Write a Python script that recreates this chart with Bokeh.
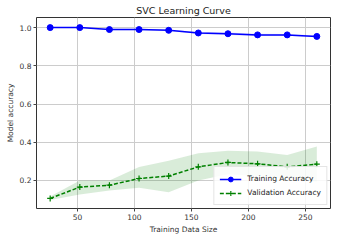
from bokeh.plotting import figure
from bokeh.embed import file_html
from bokeh.resources import INLINE
from bokeh.models import FixedTicker, NumeralTickFormatter, Range1d

train_sizes = [26, 52, 78, 104, 130, 156, 182, 208, 234, 260]
train_mean = [1.0, 1.0, 0.99, 0.99, 0.986, 0.972, 0.968, 0.962, 0.962, 0.954]
train_std = [0.0, 0.0, 0.004, 0.004, 0.004, 0.005, 0.006, 0.006, 0.005, 0.005]
val_mean = [0.106, 0.165, 0.175, 0.21, 0.223, 0.271, 0.294, 0.287, 0.271, 0.285]
val_upper = [0.116, 0.2, 0.2, 0.27, 0.303, 0.342, 0.356, 0.352, 0.333, 0.377]
val_lower = [0.098, 0.126, 0.147, 0.161, 0.138, 0.2, 0.232, 0.222, 0.209, 0.193]
x_ticks = [50, 100, 150, 200, 250]
y_ticks = [0.2, 0.4, 0.6, 0.8, 1.0]

FONT = "DejaVu Sans"

p = figure(frame_width=294, frame_height=191, output_backend="svg", toolbar_location=None,
           title="SVC Learning Curve",
           x_range=Range1d(14, 272), y_range=Range1d(0.053, 1.053),
           min_border_left=36, min_border_right=10, min_border_bottom=20, min_border_top=0)

p.title.align = "center"
p.title.text_font = FONT
p.title.text_font_size = "9.5px"
p.title.text_font_style = "normal"
p.title.text_color = "#222222"
p.title.standoff = 4
p.title.offset = 0

tr_upper = [m + s for m, s in zip(train_mean, train_std)]
tr_lower = [m - s for m, s in zip(train_mean, train_std)]
p.varea(x=train_sizes, y1=tr_lower, y2=tr_upper, fill_color="blue", fill_alpha=0.15)
p.varea(x=train_sizes, y1=val_lower, y2=val_upper, fill_color="green", fill_alpha=0.15)

p.line(train_sizes, train_mean, line_color="blue", line_width=1.5, legend_label="Training Accuracy")
p.scatter(train_sizes, train_mean, marker="circle", size=6, fill_color="blue", line_color="blue",
          legend_label="Training Accuracy")
p.line(train_sizes, val_mean, line_color="green", line_width=1.5, line_dash="4 2",
       legend_label="Validation Accuracy")
p.scatter(train_sizes, val_mean, marker="cross", size=6, line_color="green", line_width=1.2,
          legend_label="Validation Accuracy")

p.xaxis.ticker = FixedTicker(ticks=x_ticks)
p.yaxis.ticker = FixedTicker(ticks=y_ticks)
p.yaxis.formatter = NumeralTickFormatter(format="0.0")
p.xaxis.axis_label = "Training Data Size"
p.yaxis.axis_label = "Model accuracy"
for ax in (p.xaxis, p.yaxis):
    ax.axis_label_text_font = FONT
    ax.axis_label_text_font_size = "7.5px"
    ax.axis_label_text_font_style = "normal"
    ax.axis_label_text_color = "#333333"
    ax.major_label_text_font = FONT
    ax.major_label_text_font_size = "7.5px"
    ax.major_label_text_color = "#333333"
    ax.minor_tick_line_color = None
    ax.major_tick_out = 3
    ax.major_tick_in = 0
    ax.axis_line_color = None
    ax.major_tick_line_color = "#444444"
    ax.axis_label_standoff = 2
    ax.major_label_standoff = 2

p.grid.grid_line_color = "#cccccc"
p.grid.grid_line_width = 1
p.outline_line_color = "#333333"
p.outline_line_width = 1
p.background_fill_color = "white"

p.legend.location = "bottom_right"
p.legend.label_text_font = FONT
p.legend.label_text_font_size = "7.5px"
p.legend.label_text_color = "#222222"
p.legend.glyph_width = 22
p.legend.glyph_height = 12
p.legend.spacing = 1
p.legend.padding = 5
p.legend.margin = 3
p.legend.label_standoff = 6
p.legend.label_height = 13
p.legend.border_line_color = "#cccccc"
p.legend.background_fill_alpha = 0.85

open("out.html", "w").write(file_html(p, INLINE))
